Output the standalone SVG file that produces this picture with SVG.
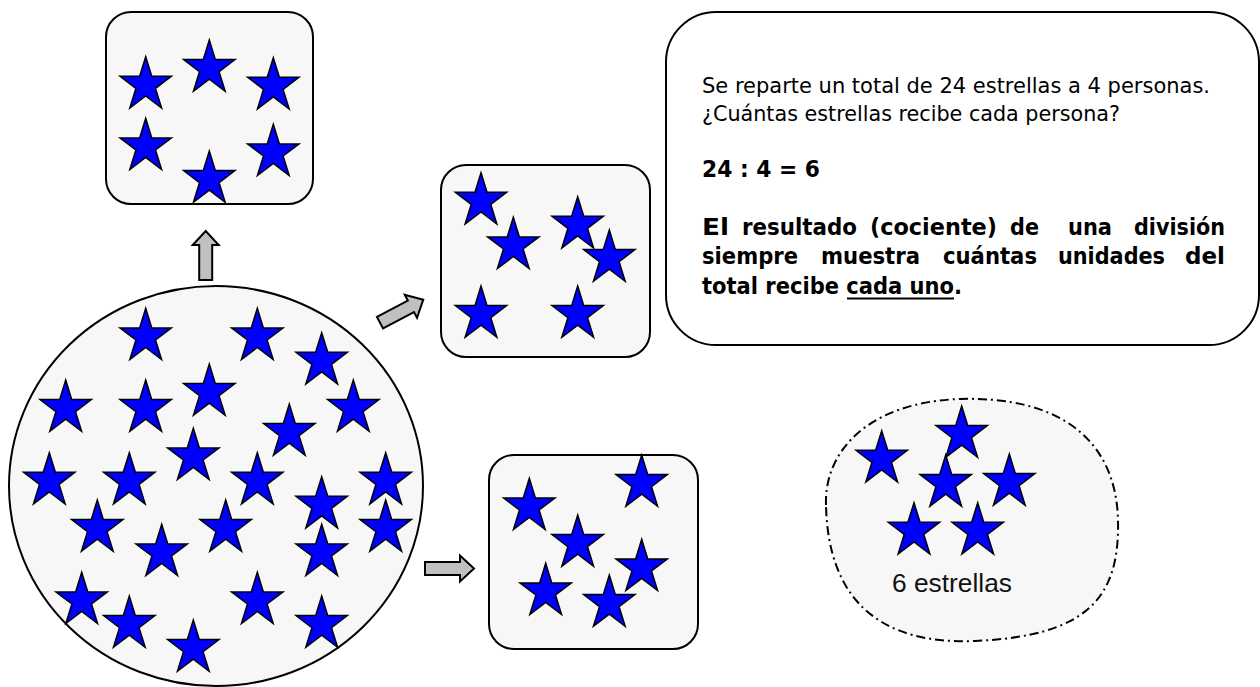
<svg xmlns="http://www.w3.org/2000/svg" xmlns:xlink="http://www.w3.org/1999/xlink" width="1260" height="687" viewBox="0 0 1260 687">
<style>
.panel{fill:#f7f7f7;stroke:#000;stroke-width:2}
.star{fill:#0000ff;stroke:#000;stroke-width:1.5;stroke-linejoin:miter}
.arrow{fill:#c0c0c0;stroke:#000;stroke-width:2;stroke-linejoin:miter}
.reg{font-family:"DejaVu Sans","Liberation Sans",sans-serif;font-size:22px;fill:#000}
.bold{font-family:"DejaVu Sans","Liberation Sans",sans-serif;font-size:23px;font-weight:bold;fill:#000}
.lbl{font-family:"Liberation Sans",Arial,sans-serif;font-size:25px;fill:#111}
</style>
<defs>
<polygon id="s" class="star" points="0,0 6.05,19.6 25.68,19.59 9.8,31.69 15.87,51.28 0,39.17 -15.87,51.28 -9.8,31.69 -25.68,19.59 -6.05,19.6"/>
<path id="arr" class="arrow" d="M0,-6.5 H35 V-13 L49,0 L35,13 V6.5 H0 Z"/>
</defs>
<rect width="1260" height="687" fill="#fff"/>

<g id="total">
<ellipse class="panel" cx="216" cy="486" rx="207" ry="200"/>
<use href="#s" x="145.7" y="308.3"/>
<use href="#s" x="257.3" y="308.3"/>
<use href="#s" x="321.7" y="332.7"/>
<use href="#s" x="209.3" y="364"/>
<use href="#s" x="65.7" y="380"/>
<use href="#s" x="145.7" y="380"/>
<use href="#s" x="353.3" y="380"/>
<use href="#s" x="289.3" y="404"/>
<use href="#s" x="193.3" y="428.3"/>
<use href="#s" x="49.3" y="452.7"/>
<use href="#s" x="129.3" y="452.7"/>
<use href="#s" x="257.3" y="452.7"/>
<use href="#s" x="385.7" y="452.7"/>
<use href="#s" x="321.7" y="476.7"/>
<use href="#s" x="97.3" y="500"/>
<use href="#s" x="225.7" y="500"/>
<use href="#s" x="385.7" y="500"/>
<use href="#s" x="161.7" y="524.3"/>
<use href="#s" x="321.7" y="524.3"/>
<use href="#s" x="81.7" y="572.3"/>
<use href="#s" x="257.3" y="572.3"/>
<use href="#s" x="129.3" y="596"/>
<use href="#s" x="321.7" y="596"/>
<use href="#s" x="193.3" y="620"/>
</g>

<g id="grupo-arriba">
<rect class="panel" x="106" y="12" width="207" height="192" rx="25"/>
<use href="#s" x="145.7" y="56.7"/>
<use href="#s" x="209.3" y="40"/>
<use href="#s" x="273.3" y="57.7"/>
<use href="#s" x="145.7" y="118.3"/>
<use href="#s" x="273.3" y="124.3"/>
<use href="#s" x="209.3" y="151"/>
</g>

<g id="grupo-medio">
<rect class="panel" x="441" y="165" width="209" height="192" rx="25"/>
<use href="#s" x="481" y="172.7"/>
<use href="#s" x="513.3" y="217.3"/>
<use href="#s" x="577.7" y="196.7"/>
<use href="#s" x="609.3" y="230"/>
<use href="#s" x="481" y="286"/>
<use href="#s" x="577.7" y="286"/>
</g>

<g id="grupo-abajo">
<rect class="panel" x="489" y="455" width="209" height="194" rx="25"/>
<use href="#s" x="529.3" y="478.3"/>
<use href="#s" x="641.7" y="455"/>
<use href="#s" x="577.7" y="515"/>
<use href="#s" x="641.7" y="539.3"/>
<use href="#s" x="545.7" y="563.3"/>
<use href="#s" x="609.3" y="575"/>
</g>

<g id="explicacion">
<rect x="666" y="12" width="593" height="333" rx="50" fill="#fff" stroke="#000" stroke-width="2"/>
<text class="reg" x="702" y="93" textLength="508" lengthAdjust="spacingAndGlyphs">Se reparte un total de 24 estrellas a 4 personas.</text>
<text class="reg" x="702" y="121" textLength="418" lengthAdjust="spacingAndGlyphs">¿Cuántas estrellas recibe cada persona?</text>
<text class="bold" x="702" y="177" textLength="118" lengthAdjust="spacingAndGlyphs">24 : 4 = 6</text>
<text class="bold" x="702" y="235" textLength="27" lengthAdjust="spacingAndGlyphs">El</text>
<text class="bold" x="742" y="235" textLength="115" lengthAdjust="spacingAndGlyphs">resultado</text>
<text class="bold" x="870" y="235" textLength="127" lengthAdjust="spacingAndGlyphs">(cociente)</text>
<text class="bold" x="1010" y="235" textLength="29" lengthAdjust="spacingAndGlyphs">de</text>
<text class="bold" x="1068" y="235" textLength="44" lengthAdjust="spacingAndGlyphs">una</text>
<text class="bold" x="1134" y="235" textLength="91" lengthAdjust="spacingAndGlyphs">división</text>
<text class="bold" x="702" y="264" textLength="96" lengthAdjust="spacingAndGlyphs">siempre</text>
<text class="bold" x="821" y="264" textLength="99" lengthAdjust="spacingAndGlyphs">muestra</text>
<text class="bold" x="943" y="264" textLength="94" lengthAdjust="spacingAndGlyphs">cuántas</text>
<text class="bold" x="1058" y="264" textLength="107" lengthAdjust="spacingAndGlyphs">unidades</text>
<text class="bold" x="1185" y="264" textLength="40" lengthAdjust="spacingAndGlyphs">del</text>
<text class="bold" x="702" y="294" textLength="260" lengthAdjust="spacingAndGlyphs">total recibe cada uno.</text>
<line x1="847" y1="298.5" x2="954" y2="298.5" stroke="#000" stroke-width="2"/>
</g>

<g id="resultado">
<path d="M826,505 C824,450 870,402 960,399 C1060,396 1116,440 1118,520 C1120,600 1085,636 975,641 C880,645 828,600 826,505 Z" fill="#f7f7f7" stroke="#000" stroke-width="2" stroke-dasharray="9 4 2 4"/>
<use href="#s" x="881.7" y="430.7"/>
<use href="#s" x="961.7" y="406"/>
<use href="#s" x="945.7" y="455"/>
<use href="#s" x="1009.3" y="454"/>
<use href="#s" x="914" y="502.7"/>
<use href="#s" x="977.7" y="502.7"/>
<text class="lbl" x="892" y="592" textLength="120" lengthAdjust="spacingAndGlyphs">6 estrellas</text>
</g>

<g id="conectores">
<use href="#arr" transform="translate(205.7,280) rotate(-90)"/>
<use href="#arr" transform="translate(380,322.7) rotate(-28)"/>
<use href="#arr" transform="translate(425,568.5)"/>
</g>
</svg>
